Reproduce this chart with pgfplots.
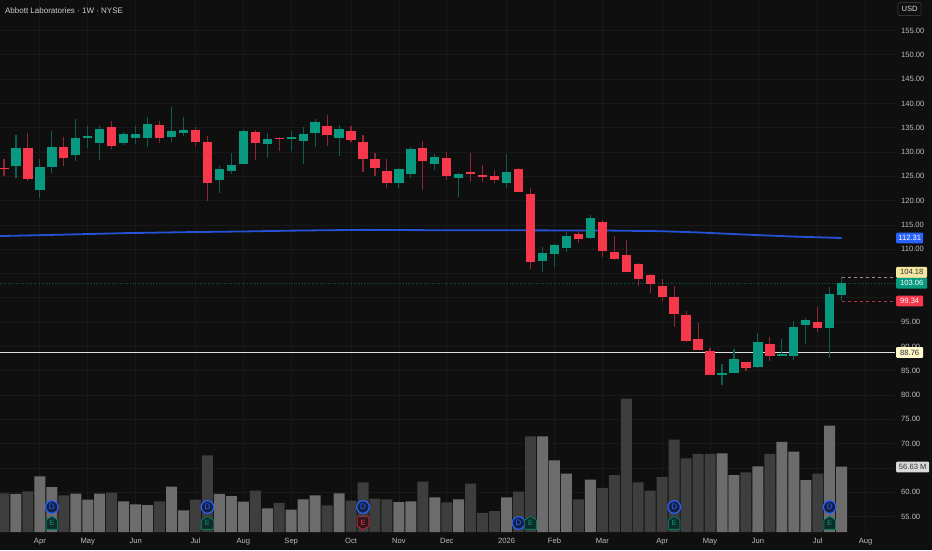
\documentclass[border=0pt]{standalone}
\usepackage{pgfplots}
\usepackage{pgfplotstable}
\usepackage{fontspec}
\setmainfont{Liberation Sans}
\pgfplotsset{compat=1.18}
\definecolor{bg}{HTML}{0F0F0F}
\definecolor{gridc}{HTML}{191919}
\definecolor{up}{HTML}{089981}
\definecolor{dn}{HTML}{F7374C}
\definecolor{upw}{HTML}{0A5F51}
\definecolor{dnw}{HTML}{8E2633}
\definecolor{volup}{HTML}{6C6C6C}
\definecolor{voldn}{HTML}{3E3E3E}
\definecolor{smac}{HTML}{2453D6}
\definecolor{tagblue}{HTML}{2962FF}
\definecolor{txt}{HTML}{BDBDBD}
\definecolor{hidash}{HTML}{A88680}
\definecolor{lodash}{HTML}{B52E3C}
\definecolor{tagyel}{HTML}{F2E6A0}
\definecolor{tagpale}{HTML}{FFF9CC}
\pgfplotstableread{
x o h l c
1 127.19 133.50 124.58 130.89
3 122.18 128.63 120.54 126.98
4 126.91 134.25 125.68 131.03
6 129.38 136.86 128.15 132.95
7 132.81 135.35 130.82 133.36
8 131.78 135.35 128.29 134.80
10 131.78 134.12 131.51 133.64
11 132.81 135.35 131.65 133.64
12 132.95 137.13 130.96 135.76
14 133.09 139.19 132.13 134.39
15 133.91 137.13 133.36 134.53
18 124.24 127.12 121.63 126.57
19 126.09 129.73 125.54 127.39
20 127.46 134.80 127.46 134.39
22 131.58 133.84 128.77 132.68
24 132.68 134.39 130.21 133.09
25 132.26 135.08 127.60 133.77
26 133.91 136.86 131.10 136.17
28 132.95 135.49 129.25 134.66
33 123.69 126.64 122.59 126.43
34 125.47 131.03 124.58 130.62
36 127.46 129.59 126.37 129.04
38 124.65 125.61 120.81 125.47
42 123.55 129.59 122.59 125.89
45 107.64 110.38 105.31 109.29
46 109.08 111.07 106.27 110.80
47 110.18 113.61 109.49 112.72
49 112.24 116.95 112.05 116.40
60 84.19 86.38 81.99 84.46
61 84.60 89.40 84.46 87.34
63 85.70 92.69 85.63 90.98
65 88.10 91.53 88.03 88.51
66 88.10 95.16 87.27 94.06
67 94.48 95.78 90.57 95.37
69 93.86 102.16 87.69 100.72
70 100.58 104.18 99.34 103.06
}\greentab
\pgfplotstableread{
x o h l c
0 126.71 128.63 125.06 126.43
2 130.89 133.84 124.10 124.38
5 131.03 133.02 127.19 128.83
9 135.08 136.31 130.55 131.23
13 135.62 136.45 131.78 132.95
16 134.53 135.08 131.30 131.99
17 132.13 133.22 119.92 123.69
21 134.12 134.53 128.35 131.78
23 132.88 133.02 130.21 132.68
27 135.35 137.54 131.23 133.50
29 134.39 135.35 132.13 132.54
30 132.13 133.50 125.82 128.56
31 128.49 129.79 125.13 126.78
32 126.02 128.49 122.66 123.55
35 130.75 132.20 122.18 128.15
37 128.70 130.00 124.24 125.06
39 125.89 129.73 123.83 125.47
40 125.20 127.26 123.90 124.79
41 125.06 126.30 123.62 124.24
43 126.43 126.64 121.70 121.70
44 121.43 122.52 105.86 107.37
48 113.20 113.75 111.28 112.10
50 115.53 116.01 108.47 109.57
51 109.50 112.72 107.78 107.92
52 108.74 111.90 105.24 105.38
53 107.03 107.23 102.50 103.87
54 104.70 104.83 100.92 102.84
55 102.43 103.80 99.41 100.24
56 100.10 102.43 94.06 96.74
57 96.53 97.29 90.84 91.05
58 91.46 94.75 89.19 89.26
59 89.06 89.67 84.12 84.19
62 86.79 86.86 85.00 85.49
64 90.43 91.94 87.07 88.10
68 95.03 98.11 93.03 93.86
}\redtab
\pgfplotstableread{
x v
1 33.0
3 48.3
4 39.0
6 33.2
7 28.0
8 33.2
10 26.6
11 24.0
12 23.4
14 39.3
15 18.8
18 33.0
19 31.2
20 26.3
22 20.5
24 19.4
25 28.3
26 31.8
28 33.5
33 26.0
34 26.6
36 30.1
38 28.3
42 30.1
45 83.0
46 62.2
47 50.6
49 45.4
60 68.2
61 49.4
63 57.0
65 78.1
66 69.7
67 45.1
69 92.2
70 56.63
}\volgreen
\pgfplotstableread{
x v
0 33.5
2 35.3
5 31.8
9 34.1
13 26.6
16 28.0
17 66.5
21 35.8
23 25.2
27 23.1
29 27.2
30 43.1
31 28.9
32 28.3
35 43.7
37 25.7
39 41.9
40 16.5
41 18.2
43 35.0
44 83.0
48 28.3
50 38.2
51 49.4
52 115.6
53 43.1
54 35.8
55 47.7
56 80.1
57 63.9
58 67.7
59 67.7
62 51.7
64 67.7
68 50.6
}\volred
\pgfplotsset{base/.style={
  scale only axis, width=895pt, height=532pt,
  at={(0pt,18pt)}, anchor=south west,
  xmin=-0.334, xmax=74.456}}
\newcommand{\Dmark}[2]{%
  \node[circle,draw=tagblue,line width=1.2pt,fill=tagblue!22!bg,minimum size=12.6pt,inner sep=0pt,text=tagblue,font=\fontsize{8}{9}\selectfont] at (axis cs:#1,#2) {D};}
\newcommand{\Emark}[2]{%
  \draw[draw=up!75!black,line width=0.9pt,fill=up!20!bg,shift={(axis cs:#1,#2)},x=1pt,y=1pt] (-5.8,-6.3) -- (5.8,-6.3) -- (5.8,3) -- (0,6.6) -- (-5.8,3) -- cycle;
  \node[text=up,inner sep=0pt,font=\fontsize{7.5}{8}\selectfont] at (axis cs:#1,#2) {E};}
\newcommand{\Ered}[2]{%
  \draw[draw=dn!75!black,line width=0.9pt,fill=dn!15!bg,shift={(axis cs:#1,#2)},x=1pt,y=1pt] (-5.8,6.3) -- (5.8,6.3) -- (5.8,-3) -- (0,-6.6) -- (-5.8,-3) -- cycle;
  \node[text=dn,inner sep=0pt,font=\fontsize{7.5}{8}\selectfont] at (axis cs:#1,#2) {E};}
\newcommand{\Tag}[5]{% y, width, fill, text colour, text
  \node[anchor=west,fill=#3,text=#4,minimum width=#2,minimum height=10.8pt,inner sep=0pt,rounded corners=1pt,font=\fontsize{7.6}{8}\selectfont] at (axis cs:74.54,#1) {#5};}
\begin{document}
\begin{tikzpicture}
\useasboundingbox (0pt,0pt) rectangle (932pt,550pt);
\fill[bg] (0pt,0pt) rectangle (932pt,550pt);
% axis frame: grid, price ticks, date ticks
\begin{axis}[base,
  ymin=51.81, ymax=161.276,
  axis line style={draw=none},
  major tick length=0pt,
  grid=major, grid style={gridc,line width=0.8pt},
  xtick={3,7,11,16,20,24,29,33,37,42,46,50,55,59,63,68,72},
  xticklabels={Apr,May,Jun,Jul,Aug,Sep,Oct,Nov,Dec,2026,Feb,Mar,Apr,May,Jun,Jul,Aug},
  ytick={55,60,...,155},
  yticklabels={55.00,60.00,,70.00,75.00,80.00,85.00,90.00,95.00,,,110.00,115.00,120.00,125.00,130.00,135.00,140.00,145.00,150.00,155.00},
  axis y line*=right,
  axis x line*=bottom,
  xticklabel style={anchor=base,yshift=-11.2pt,inner sep=0pt,text=txt,font=\fontsize{7.6}{8}\selectfont},
  yticklabel style={anchor=west,xshift=6pt,inner sep=0pt,text=txt,font=\fontsize{7.6}{8}\selectfont},
]
\end{axis}
% volume
\begin{axis}[base, ymin=0, ymax=461.4, hide axis, ybar, bar width=11pt, bar shift=0pt]
\addplot[fill=volup,draw=none] table[x=x,y=v] {\volgreen};
\addplot[fill=voldn,draw=none] table[x=x,y=v] {\volred};
\end{axis}
% price
\begin{axis}[base, ymin=51.81, ymax=161.276, hide axis, clip=false]
\addplot[draw=white!88!black,line width=1.4pt,mark=none] coordinates {(-0.334,88.76) (74.456,88.76)};
\addplot[draw=up!60!black,line width=0.6pt,dotted,mark=none] coordinates {(-0.334,103.06) (74.456,103.06)};
\addplot[draw=hidash,line width=0.8pt,dashed,mark=none] coordinates {(70,104.18) (74.456,104.18)};
\addplot[draw=lodash,line width=0.8pt,dashed,mark=none] coordinates {(70,99.34) (74.456,99.34)};
\addplot[draw=smac,line width=1.8pt,mark=none] coordinates {
 (-0.334,112.7) (5,113.0) (10,113.3) (15,113.5) (20,113.65) (25,113.85) (30,113.98)
 (35,113.92) (40,113.9) (45,113.87) (50,113.85) (55,113.7) (58,113.45) (62,113.0)
 (66,112.6) (70,112.31)};
% wicks
\addplot[draw=none,mark=none,error bars/.cd,y dir=both,y explicit,error mark=none,
  error bar style={draw=upw,line width=1.1pt}]
  table[x=x,y=c,y error plus expr=\thisrow{h}-\thisrow{c},y error minus expr=\thisrow{c}-\thisrow{l}] {\greentab};
\addplot[draw=none,mark=none,error bars/.cd,y dir=both,y explicit,error mark=none,
  error bar style={draw=dnw,line width=1.1pt}]
  table[x=x,y=o,y error plus expr=\thisrow{h}-\thisrow{o},y error minus expr=\thisrow{o}-\thisrow{l}] {\redtab};
% bodies
\addplot[draw=none,mark=none,error bars/.cd,y dir=minus,y explicit,error mark=none,
  error bar style={draw=up,line width=9.3pt}]
  table[x=x,y=c,y error minus expr=\thisrow{c}-\thisrow{o}] {\greentab};
\addplot[draw=none,mark=none,error bars/.cd,y dir=minus,y explicit,error mark=none,
  error bar style={draw=dn,line width=9.3pt}]
  table[x=x,y=o,y error minus expr=\thisrow{o}-\thisrow{c}] {\redtab};
% price tags
\Tag{112.31}{27pt}{tagblue}{white}{112.31}
\Tag{105.23}{31pt}{tagyel}{black!80}{104.18}
\Tag{103.00}{31pt}{up}{white}{103.06}
\Tag{99.34}{27pt}{dn}{white}{99.34}
\Tag{88.76}{27pt}{tagpale}{black!85}{88.76}
\Tag{65.19}{33pt}{white!85!black}{black!80}{56.63 M}
\node[anchor=west,draw=white!28!black,rounded corners=2pt,minimum width=23.3pt,minimum height=13.2pt,inner sep=0pt,text=white!85!black,font=\fontsize{7.6}{8}\selectfont] at (axis cs:74.68,159.42) {USD};
\node[anchor=west,inner sep=0pt,text=white!80!black,font=\fontsize{8}{9}\selectfont] at (axis cs:0.08,159.0) {Abbott Laboratories · 1W · NYSE};
% event markers
\Dmark{4}{56.95}\Emark{4}{53.66}
\Dmark{17}{56.95}\Emark{17}{53.66}
\Dmark{30}{56.95}\Ered{30}{53.66}
\Dmark{43}{53.66}\Emark{44}{53.66}
\Dmark{56}{56.95}\Emark{56}{53.66}
\Dmark{69}{56.95}\Emark{69}{53.66}
\end{axis}
\end{tikzpicture}
\end{document}
